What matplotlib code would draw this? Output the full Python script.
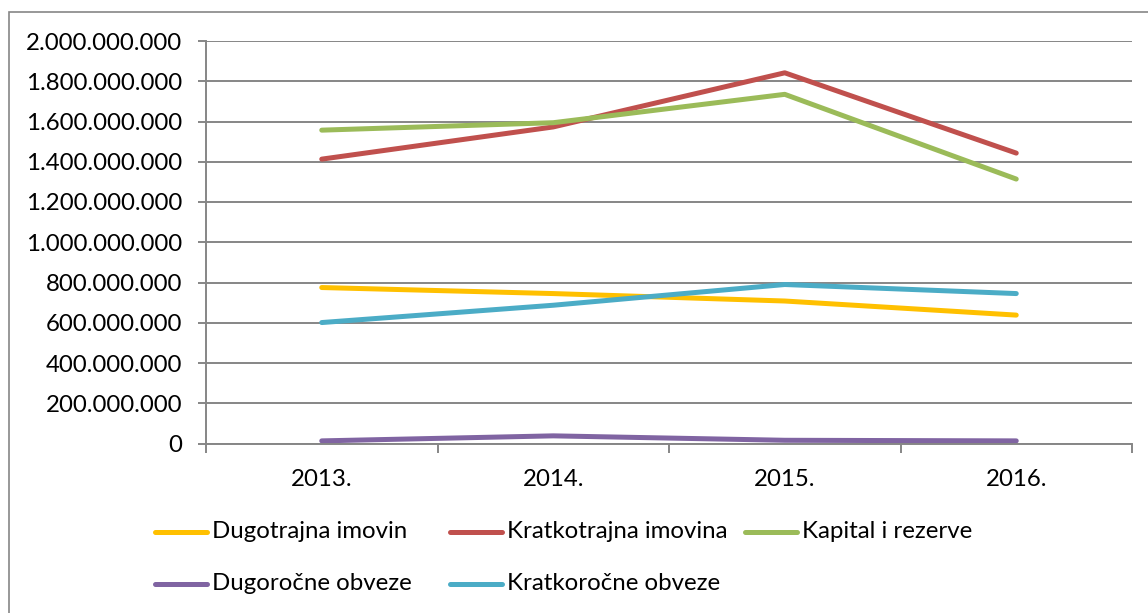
import matplotlib
matplotlib.use("Agg")
import matplotlib.pyplot as plt
from matplotlib.lines import Line2D
from matplotlib.patches import Rectangle
from matplotlib.ticker import FuncFormatter, FixedLocator

years = ["2013.", "2014.", "2015.", "2016."]
dugotrajna_imovina = [775e6, 745e6, 708e6, 638e6]
kratkotrajna_imovina = [1413e6, 1573e6, 1842e6, 1443e6]
kapital_i_rezerve = [1557e6, 1594e6, 1735e6, 1314e6]
dugorocne_obveze = [13e6, 38e6, 16e6, 13e6]
kratkorocne_obveze = [601e6, 687e6, 790e6, 745e6]

series_names = ["Dugotrajna imovin", "Kratkotrajna imovina", "Kapital i rezerve",
                "Dugoročne obveze", "Kratkoročne obveze"]
series_values = [dugotrajna_imovina, kratkotrajna_imovina, kapital_i_rezerve,
                 dugorocne_obveze, kratkorocne_obveze]
colors = ["#FFC000", "#C0504D", "#9BBB59", "#8064A2", "#4BACC6"]

yticks = [i * 200e6 for i in range(11)]

plt.rcParams['font.family'] = ['Lato', 'DejaVu Sans']
FS = 17.3

W, H = 1148, 613
fig = plt.figure(figsize=(W / 100, H / 100), dpi=100)

# outer chart border
fig.add_artist(Rectangle((9 / W, -0.05), 1.2, 1 - 12 / H + 0.05, transform=fig.transFigure,
                         fill=False, edgecolor="#868686", linewidth=1.2))

left, right, top, bottom = 206, 1132, 41, 443.5
ax = fig.add_axes([left / W, 1 - bottom / H, (right - left) / W, (bottom - top) / H])

x = list(range(len(years)))
for name, vals, c in zip(series_names, series_values, colors):
    ax.plot(x, vals, color=c, linewidth=3.6, solid_capstyle="round",
            solid_joinstyle="round", label=name)

ax.set_xlim(-0.5, len(years) - 0.5)
ax.set_ylim(0, 2e9)
ax.set_yticks(yticks)
ax.yaxis.set_major_formatter(FuncFormatter(lambda v, p: f"{int(round(v)):,}".replace(",", ".")))
ax.grid(axis="y", color="#868686", linewidth=1.4)
ax.set_axisbelow(True)

ax.set_xticks(x)
ax.set_xticklabels(years)
ax.xaxis.set_minor_locator(FixedLocator([i - 0.5 for i in range(len(years) + 1)]))
ax.tick_params(axis="x", which="major", length=0, pad=18, labelsize=FS)
ax.tick_params(axis="x", which="minor", length=6.5, width=1.4, color="#868686")
ax.tick_params(axis="y", length=6, width=1.4, color="#868686", pad=11, labelsize=FS)

for s in ["top", "right"]:
    ax.spines[s].set_visible(False)
for s in ["left", "bottom"]:
    ax.spines[s].set_color("#868686")
    ax.spines[s].set_linewidth(1.4)

# legend drawn manually (Excel-style equal columns)
legend_pos = [(155, 532), (450, 532), (745, 532), (155, 584), (450, 584)]
for (lx, ly), name, c in zip(legend_pos, series_names, colors):
    fig.add_artist(Line2D([lx / W, (lx + 52) / W], [1 - ly / H, 1 - ly / H],
                          transform=fig.transFigure, color=c, linewidth=3.6,
                          solid_capstyle="round"))
    fig.text((lx + 57) / W, 1 - ly / H, name, fontsize=FS, va="center", ha="left")

fig.savefig("out.png", dpi=100)
